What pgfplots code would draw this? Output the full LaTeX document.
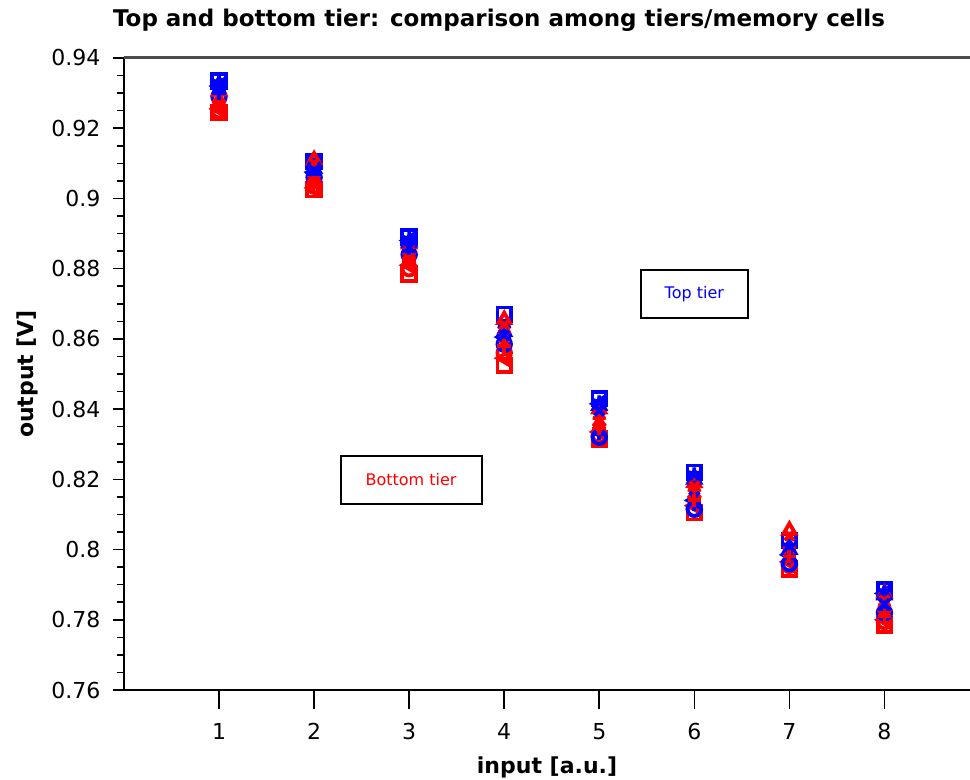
\documentclass[border=0pt]{standalone}
\usepackage{pgfplots}
\pgfplotsset{compat=1.18}
\usepackage{fontspec}
\setmainfont{DejaVu Sans}
\definecolor{rd}{RGB}{255,0,0}
\definecolor{bl}{RGB}{0,0,255}
\begin{document}
\begin{tikzpicture}
\useasboundingbox (-62pt,-45pt) rectangle (423pt,345pt);
\node[font=\bfseries\fontsize{11.5}{13}\selectfont] at (187.5pt,335pt) {Top and bottom tier: comparison among tiers/memory cells};
\begin{axis}[
  at={(0,0)}, anchor=south west,
  scale only axis, width=423pt, height=316pt,
  xmin=0, xmax=8.9, ymin=0.76, ymax=0.94,
  axis x line*=bottom, axis y line*=left,
  x axis line style={line width=1pt},
  y axis line style={line width=0.8pt},
  xtick={1,2,3,4,5,6,7,8},
  ytick={0.76,0.78,0.80,0.82,0.84,0.86,0.88,0.90,0.92,0.94},
  minor y tick num=3,
  tick align=outside,
  xtick style={/pgfplots/major tick length=9.7pt, line width=0.8pt, black},
  ytick style={/pgfplots/major tick length=5.5pt, line width=0.8pt, black},
  minor tick length=3.7pt,
  /pgf/number format/assume math mode=true,
  ticklabel style={font=\fontsize{11}{13}\selectfont},
  xticklabel style={yshift=-9pt},
  yticklabel style={xshift=-4pt},
  xlabel={\textbf{input [a.u.]}},
  ylabel={\textbf{output [V]}},
  xlabel style={yshift=-1.5pt},
  label style={font=\fontsize{11}{13}\selectfont},
  clip=false,
  every axis plot/.append style={only marks, mark size=3.4pt, line width=1.9pt},
]
% Red = bottom tier, Blue = top tier
\addplot[rd, mark=square] coordinates {(1,0.9245) (2,0.9025) (3,0.8785) (4,0.8525) (5,0.8315) (6,0.8105) (7,0.7945) (8,0.7785)};
\addplot[rd, mark=triangle, mark options={rotate=90}] coordinates {(1,0.9255) (2,0.9030) (3,0.8810) (4,0.8545) (5,0.8335) (6,0.8125) (7,0.7965) (8,0.7800)};
\addplot[bl, mark=square] coordinates {(1,0.9335) (2,0.9105) (3,0.8890) (4,0.8670) (5,0.8430) (6,0.8220) (7,0.8025) (8,0.7885)};
\addplot[bl, mark=triangle, mark options={rotate=90}] coordinates {(1,0.9320) (2,0.9075) (3,0.8880) (4,0.8605) (5,0.8415) (6,0.8140) (7,0.7985) (8,0.7875)};
\addplot[rd, mark=o] coordinates {(1,0.9250) (2,0.9035) (3,0.8800) (4,0.8560) (5,0.8325) (6,0.8115) (7,0.7955) (8,0.7795)};
\addplot[bl, mark=o] coordinates {(1,0.9290) (2,0.9060) (3,0.8840) (4,0.8585) (5,0.8320) (6,0.8115) (7,0.7960) (8,0.7820)};
\addplot[rd, mark=diamond] coordinates {(1,0.9275) (2,0.9050) (3,0.8830) (4,0.8600) (5,0.8355) (6,0.8150) (7,0.7990) (8,0.7825)};
\addplot[bl, mark=diamond] coordinates {(1,0.9310) (2,0.9090) (3,0.8870) (4,0.8615) (5,0.8400) (6,0.8205) (7,0.8005) (8,0.7860)};
\addplot[rd, mark=triangle] coordinates {(1,0.9305) (2,0.9110) (3,0.8870) (4,0.8655) (5,0.8400) (6,0.8190) (7,0.8055) (8,0.7875)};
\addplot[bl, mark=triangle] coordinates {(1,0.9325) (2,0.9085) (3,0.8875) (4,0.8620) (5,0.8410) (6,0.8200) (7,0.8000) (8,0.7870)};
\addplot[rd, mark=star] coordinates {(1,0.9270) (2,0.9060) (3,0.8840) (4,0.8615) (5,0.8370) (6,0.8165) (7,0.8000) (8,0.7835)};
\addplot[bl, mark=star] coordinates {(1,0.9330) (2,0.9095) (3,0.8885) (4,0.8630) (5,0.8420) (6,0.8215) (7,0.8010) (8,0.7880)};
\addplot[rd, mark=x] coordinates {(1,0.9290) (2,0.9100) (3,0.8855) (4,0.8640) (5,0.8385) (6,0.8180) (7,0.8040) (8,0.7855)};
\addplot[bl, mark=x] coordinates {(1,0.9318) (2,0.9080) (3,0.8860) (4,0.8610) (5,0.8395) (6,0.8150) (7,0.7990) (8,0.7845)};
\addplot[bl, mark=+] coordinates {(1,0.9300) (2,0.9070) (3,0.8850) (4,0.8600) (5,0.8330) (6,0.8130) (7,0.7975) (8,0.7830)};
\addplot[rd, mark=+] coordinates {(1,0.9260) (2,0.9045) (3,0.8820) (4,0.8580) (5,0.8345) (6,0.8140) (7,0.7980) (8,0.7810)};
\draw[line width=1.5pt, black!70] (rel axis cs:0,1) -- (rel axis cs:1,1);
\node[draw=black, line width=1pt, minimum width=53.5pt, minimum height=24pt, inner sep=0pt, text=bl, font=\fontsize{8}{10}\selectfont] at (axis cs:6.0,0.8729) {Top tier};
\node[draw=black, line width=1pt, minimum width=70.5pt, minimum height=24pt, inner sep=0pt, text=rd, font=\fontsize{8}{10}\selectfont] at (axis cs:3.02,0.8199) {Bottom tier};
\end{axis}
\end{tikzpicture}
\end{document}
